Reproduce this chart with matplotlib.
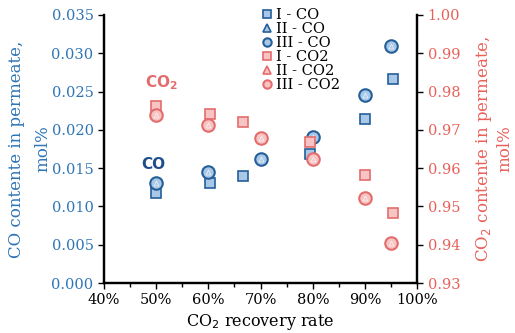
import matplotlib
matplotlib.use("Agg")
import matplotlib.pyplot as plt
from matplotlib.lines import Line2D
from matplotlib.ticker import FuncFormatter, MultipleLocator

plt.rcParams['font.family'] = ['DejaVu Serif']

# Data (recovery rate in %, values)
co_I_x = [50, 60.3, 66.7, 79.5, 90, 95.3]
co_I_y = [0.0118, 0.0130, 0.0140, 0.0168, 0.0214, 0.0266]
co_III_x = [50, 60, 70, 80, 90, 95]
co_III_y = [0.0131, 0.0145, 0.0162, 0.0191, 0.0245, 0.0309]
co_II_x = co_III_x
co_II_y = co_III_y

co2_I_x = [50, 60.3, 66.7, 79.5, 90, 95.3]
co2_I_y = [0.9763, 0.9741, 0.9721, 0.9668, 0.9581, 0.9483]
co2_III_x = [50, 60, 70, 80, 90, 95]
co2_III_y = [0.9740, 0.9714, 0.9679, 0.9625, 0.9523, 0.9404]
co2_II_x = co2_III_x
co2_II_y = co2_III_y

blue_e = '#245f99'
blue_f = '#a9c8e8'
red_e = '#e46c6c'
red_f = '#f7c4c4'
blue_t = '#2e75b6'
red_t = '#e8605a'

fig = plt.figure(figsize=(5.15, 3.33), dpi=100)
ax = fig.add_axes([0.202, 0.150, 0.608, 0.805])
ax2 = ax.twinx()

ax.plot(co_I_x, co_I_y, 's', ms=6.5, mfc=blue_f, mec=blue_e, mew=1.2, zorder=3)
ax.plot(co_III_x, co_III_y, 'o', ms=9, mfc=blue_f, mec=blue_e, mew=1.5, zorder=3)
ax.plot(co_II_x, co_II_y, '^', ms=3.5, mfc='none', mec='#ffffff', mew=0.6, alpha=0.7, zorder=4)

ax2.plot(co2_I_x, co2_I_y, 's', ms=6.5, mfc=red_f, mec=red_e, mew=1.2, zorder=3)
ax2.plot(co2_III_x, co2_III_y, 'o', ms=9, mfc=red_f, mec=red_e, mew=1.5, zorder=3)
ax2.plot(co2_II_x, co2_II_y, '^', ms=3.5, mfc='none', mec='#ffffff', mew=0.6, alpha=0.7, zorder=4)

ax.set_xlim(40, 100)
ax.set_ylim(0, 0.035)
ax2.set_ylim(0.93, 1.00)
ax.xaxis.set_major_locator(MultipleLocator(10))
ax.xaxis.set_minor_locator(MultipleLocator(5))
ax.xaxis.set_major_formatter(FuncFormatter(lambda v, p: f"{int(round(v))}%"))
ax.yaxis.set_major_locator(MultipleLocator(0.005))
ax.yaxis.set_major_formatter(FuncFormatter(lambda v, p: f"{v:.3f}"))
ax2.yaxis.set_major_locator(MultipleLocator(0.01))
ax2.yaxis.set_major_formatter(FuncFormatter(lambda v, p: f"{v:.2f}"))

for a in (ax, ax2):
    a.spines['top'].set_visible(False)
    for s in ('left', 'right', 'bottom'):
        a.spines[s].set_linewidth(1.6)
ax.tick_params(axis='y', colors='black', labelcolor=blue_t, labelsize=10.5, width=1, length=4)
ax.tick_params(axis='x', labelsize=10.5, width=1, length=4, which='major')
ax.tick_params(axis='x', width=1, length=3, which='minor')
ax2.tick_params(axis='y', colors='black', labelcolor=red_t, labelsize=10.5, width=1, length=4)

ax.set_xlabel("CO$_2$ recovery rate", fontsize=11.5, labelpad=3)
ax.set_ylabel("CO contente in permeate,\nmol%", fontsize=12, color=blue_t, linespacing=1.75, labelpad=0)
ax2.set_ylabel("CO$_2$ contente in permeate,\nmol%", fontsize=12, color=red_t, linespacing=1.2, labelpad=10)

ax.text(51, 0.0262, "CO$_\\mathbf{2}$", color=red_e, fontsize=11, fontweight='bold',
        family='DejaVu Sans', ha='center', va='center')
ax.text(49.5, 0.0155, "CO", color='#1f4e8c', fontsize=11, fontweight='bold',
        family='DejaVu Sans', ha='center', va='center')

handles = [
    Line2D([], [], ls='none', marker='s', ms=6, mfc=blue_f, mec=blue_e, mew=1.2),
    Line2D([], [], ls='none', marker='^', ms=6, mfc=blue_f, mec=blue_e, mew=1.2),
    Line2D([], [], ls='none', marker='o', ms=6, mfc=blue_f, mec=blue_e, mew=1.5),
    Line2D([], [], ls='none', marker='s', ms=6, mfc=red_f, mec=red_e, mew=1.2),
    Line2D([], [], ls='none', marker='^', ms=6, mfc=red_f, mec=red_e, mew=1.2),
    Line2D([], [], ls='none', marker='o', ms=6, mfc=red_f, mec=red_e, mew=1.5),
]
labels = ["I - CO", "II - CO", "III - CO", "I - CO2", "II - CO2", "III - CO2"]
ax2.legend(handles, labels, loc='upper left', bbox_to_anchor=(0.47, 1.065), frameon=False,
           fontsize=10.5, handlelength=0.8, handletextpad=0.2, labelspacing=0.0, borderpad=0.2)

fig.savefig("out.png", dpi=100)
